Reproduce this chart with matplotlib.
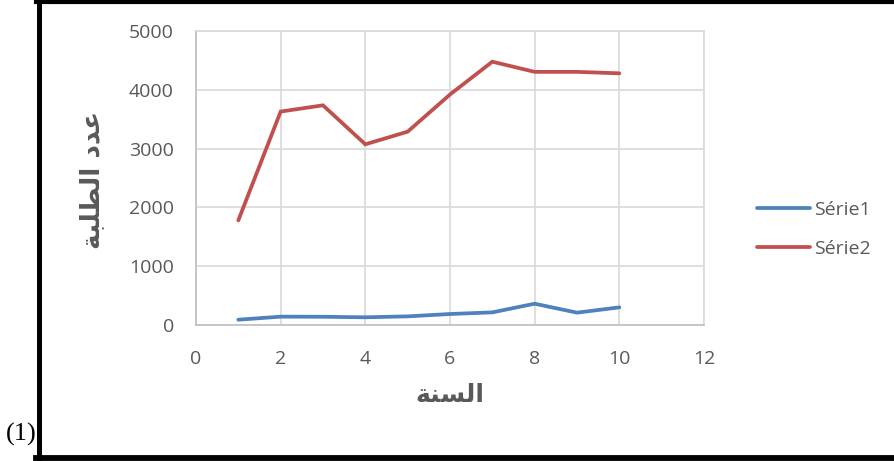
import matplotlib
matplotlib.use("Agg")
import matplotlib.pyplot as plt
from matplotlib.lines import Line2D

# Data
years = [1, 2, 3, 4, 5, 6, 7, 8, 9, 10]
serie1 = [90, 142, 140, 131, 147, 187, 215, 362, 210, 300]
serie2 = [1780, 3630, 3736, 3073, 3288, 3920, 4478, 4305, 4305, 4280]
series_names = ["Série1", "Série2"]
x_ticks = [0, 2, 4, 6, 8, 10, 12]
y_ticks = [0, 1000, 2000, 3000, 4000, 5000]

# Arabic labels written with presentation forms in visual order
x_title = "\uFE94\uFEE8\uFEB4\uFEDF\uFE8D"                      # السنة
y_title = "\uFE94\uFE92\uFEE0\uFEC4\uFEDF\uFE8D \uFEA9\uFEAA\uFECB"  # عدد الطلبة

W, H = 895, 461
fig = plt.figure(figsize=(W / 100, H / 100), dpi=100)
fig.patch.set_facecolor("white")

ax = fig.add_axes([196 / W, 1 - 325 / H, (704 - 196) / W, (325 - 31) / H])

text_grey = "#595959"
grid_grey = "#d9d9d9"

ax.plot(years, serie1, color="#4f81bd", lw=2.7, label=series_names[0],
        solid_capstyle="round", solid_joinstyle="miter")
ax.plot(years, serie2, color="#c0504d", lw=2.7, label=series_names[1],
        solid_capstyle="round", solid_joinstyle="miter")

ax.set_xlim(0, 12)
ax.set_ylim(0, 5000)
ax.set_xticks(x_ticks)
ax.set_yticks(y_ticks)
ax.grid(True, color=grid_grey, lw=1.2)
ax.set_axisbelow(True)
for s in ax.spines.values():
    s.set_color(grid_grey)
    s.set_linewidth(1.2)
ax.spines["left"].set_color("#bfbfbf")
ax.spines["bottom"].set_color("#bfbfbf")

ax.tick_params(axis="both", length=0, labelsize=14, labelcolor=text_grey)
ax.tick_params(axis="x", pad=18)
ax.tick_params(axis="y", pad=16)
for lab in ax.get_xticklabels() + ax.get_yticklabels():
    lab.set_fontfamily("Open Sans")

fig.text(450 / W, 1 - 395 / H, x_title, fontsize=18, fontweight="bold",
         family="DejaVu Sans", color=text_grey, ha="center", va="center")
fig.text(92 / W, 1 - 180 / H, y_title, fontsize=19, fontweight="bold",
         family="DejaVu Sans", color=text_grey, ha="center", va="center",
         rotation=90)

leg = ax.legend(loc="center left", bbox_to_anchor=(757 / W, 1 - 229.5 / H),
                bbox_transform=fig.transFigure, frameon=False, borderpad=0,
                borderaxespad=0, handlelength=2.7, handletextpad=0.25,
                labelspacing=1.05, prop={"family": "Open Sans", "size": 14})
for t in leg.get_texts():
    t.set_color(text_grey)

# Frame around the figure (top, left, bottom)
fig.add_artist(Line2D([36 / W, 1], [1 - 2 / H, 1 - 2 / H], color="black",
                      lw=3.0, transform=fig.transFigure))
fig.add_artist(Line2D([38.5 / W, 38.5 / W], [0, 1], color="black",
                      lw=3.6, transform=fig.transFigure))
fig.add_artist(Line2D([36 / W, 1], [1 - 457.5 / H, 1 - 457.5 / H], color="black",
                      lw=4.2, transform=fig.transFigure))

fig.text(21 / W, 1 - 434 / H, "(1)", fontsize=19, family="Liberation Serif",
         color="black", ha="center", va="center")

fig.savefig("out.png", dpi=100, facecolor="white")
